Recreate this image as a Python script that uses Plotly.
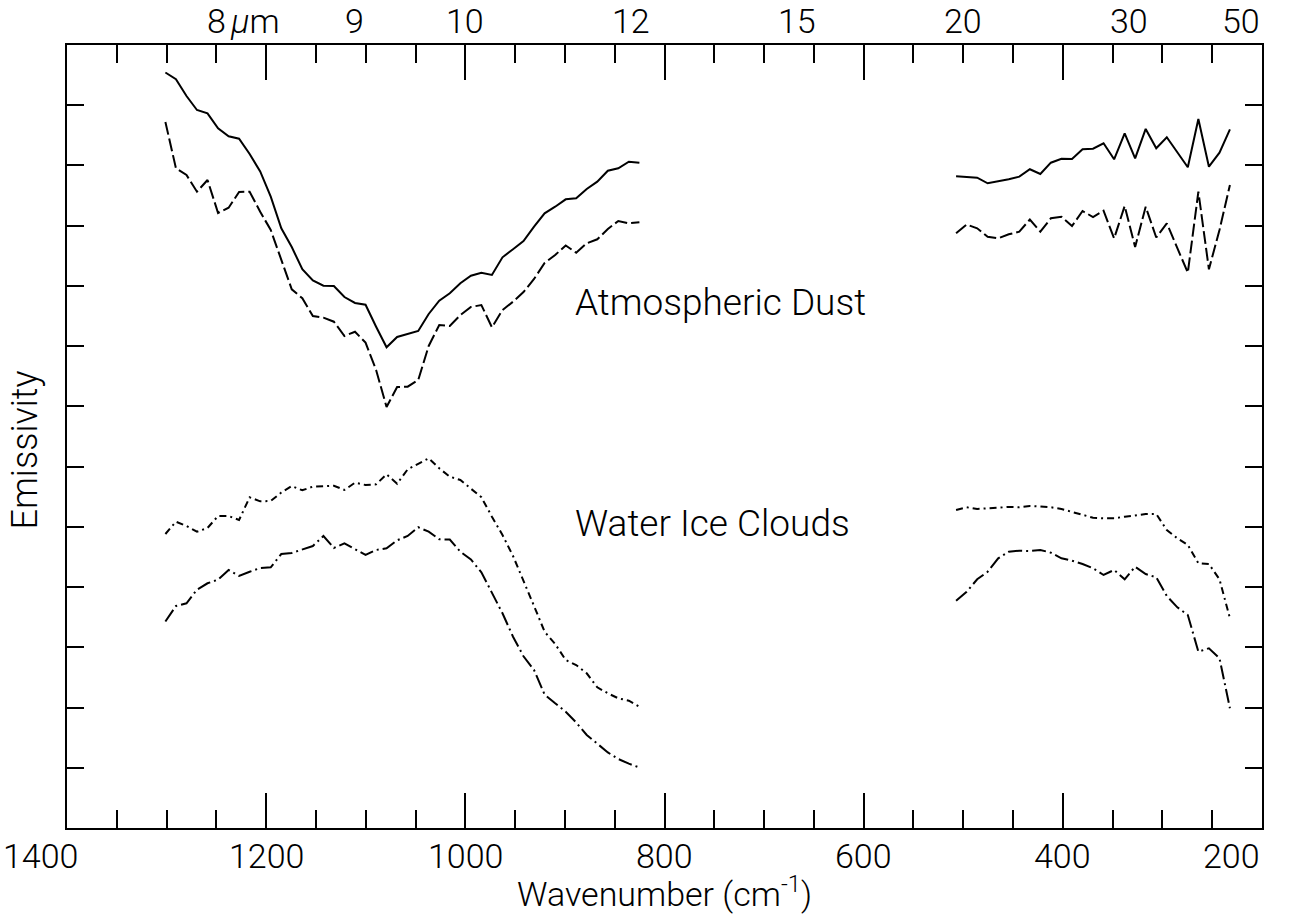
import plotly.graph_objects as go

# ---------------- data ----------------
# wavenumbers (cm^-1) of the two spectral segments
wn_left = [1301.2, 1290.6, 1280.0, 1269.5, 1258.9, 1248.3, 1237.7, 1227.2, 1216.6, 1206.0,
           1195.4, 1184.8, 1174.3, 1163.7, 1153.1, 1142.5, 1132.0, 1121.4, 1110.8, 1100.2,
           1089.6, 1079.1, 1068.5, 1057.9, 1047.3, 1036.8, 1026.2, 1015.6, 1005.0, 994.4,
           983.9, 973.3, 962.7, 952.1, 941.6, 931.0, 920.4, 909.8, 899.2, 888.7,
           878.1, 867.5, 856.9, 846.4, 835.8, 825.2]
wn_right = [507.2, 496.6, 486.0, 475.5, 464.9, 454.3, 443.7, 433.1, 422.6, 412.0,
            401.4, 390.8, 380.2, 369.7, 359.1, 348.5, 337.9, 327.4, 316.8, 306.2,
            295.6, 285.0, 274.5, 263.9, 253.3, 242.7, 232.2]

# Atmospheric dust (offset emissivity, arbitrary units)
dust_a_left = [12.544, 12.431, 12.153, 11.921, 11.866, 11.617, 11.484, 11.444, 11.191, 10.900,
               10.482, 9.957, 9.646, 9.276, 9.093, 9.004, 8.999, 8.816, 8.717, 8.688,
               8.323, 7.981, 8.152, 8.202, 8.252, 8.534, 8.755, 8.878, 9.044, 9.170,
               9.220, 9.182, 9.475, 9.608, 9.746, 9.984, 10.206, 10.315, 10.438, 10.455,
               10.609, 10.731, 10.913, 10.953, 11.063, 11.046]
dust_a_right = [10.820, 10.809, 10.797, 10.704, 10.731, 10.770, 10.814, 10.937, 10.858, 11.046,
                11.112, 11.107, 11.268, 11.279, 11.368, 11.102, 11.534, 11.119, 11.606, 11.285,
                11.468, 11.224, 10.970, 11.772, 10.980, 11.212, 11.600]
dust_b_left = [11.722, 10.953, 10.842, 10.565, 10.759, 10.211, 10.299, 10.560, 10.565, 10.232,
               9.929, 9.431, 8.944, 8.795, 8.501, 8.473, 8.406, 8.169, 8.240, 8.058,
               7.604, 6.990, 7.322, 7.327, 7.438, 8.003, 8.351, 8.335, 8.517, 8.650,
               8.683, 8.313, 8.600, 8.738, 8.899, 9.115, 9.381, 9.514, 9.671, 9.552,
               9.708, 9.774, 9.945, 10.078, 10.040, 10.056]
dust_b_right = [9.874, 10.020, 9.957, 9.817, 9.791, 9.857, 9.901, 10.103, 9.901, 10.123,
                10.149, 9.995, 10.244, 10.144, 10.249, 9.788, 10.327, 9.646, 10.315, 9.804,
                10.040, 9.630, 9.220, 10.565, 9.276, 9.929, 10.676]

# Water ice clouds
ice_a_left = [4.881, 5.086, 5.014, 4.920, 4.981, 5.180, 5.180, 5.114, 5.491, 5.424,
              5.429, 5.570, 5.678, 5.607, 5.667, 5.678, 5.683, 5.612, 5.733, 5.695,
              5.706, 5.872, 5.716, 5.955, 6.044, 6.138, 5.972, 5.833, 5.778, 5.640,
              5.491, 5.169, 4.865, 4.516, 4.118, 3.686, 3.259, 3.055, 2.789, 2.706,
              2.568, 2.336, 2.236, 2.153, 2.114, 2.014]
ice_a_right = [5.280, 5.325, 5.296, 5.308, 5.308, 5.330, 5.325, 5.346, 5.338, 5.325,
               5.296, 5.252, 5.197, 5.152, 5.142, 5.142, 5.169, 5.197, 5.213, 5.213,
               4.948, 4.810, 4.699, 4.395, 4.383, 4.129, 3.482]
ice_b_left = [3.429, 3.686, 3.731, 3.957, 4.063, 4.123, 4.284, 4.184, 4.255, 4.317,
              4.328, 4.549, 4.566, 4.627, 4.682, 4.848, 4.649, 4.727, 4.627, 4.533,
              4.616, 4.644, 4.777, 4.848, 4.993, 4.920, 4.793, 4.790, 4.587, 4.458,
              4.245, 3.902, 3.565, 3.176, 2.851, 2.623, 2.216, 2.070, 1.931, 1.752,
              1.544, 1.400, 1.254, 1.146, 1.068, 1.004]
ice_b_right = [3.774, 3.923, 4.129, 4.255, 4.478, 4.587, 4.604, 4.599, 4.616, 4.571,
               4.478, 4.438, 4.383, 4.312, 4.201, 4.284, 4.129, 4.338, 4.217, 4.162,
               3.852, 3.664, 3.536, 2.927, 2.984, 2.818, 1.987]

# axis labels
wn_tickvals = [1400, 1200, 1000, 800, 600, 400, 200]
wn_ticktext = ["1400", "1200", "1000", "800", "600", "400", "200"]
micron_vals = [10000 / 8, 10000 / 9, 10000 / 10, 10000 / 12, 10000 / 15, 10000 / 20, 10000 / 30, 10000 / 50]
micron_text = ["8", "9", "10", "12", "15", "20", "30", "50"]

# --------------- figure ---------------
TEXT = "Roboto, Liberation Sans, Arial, sans-serif"
fig = go.Figure()


def joined(a, b):
    return list(a) + [None] + list(b)


series = [
    (dust_a_left, dust_a_right, "solid"),
    (dust_b_left, dust_b_right, "13px,4px"),
    (ice_a_left, ice_a_right, "7px,4px,2px,4px"),
    (ice_b_left, ice_b_right, "14px,4px,2px,4px"),
]
for yl, yr, dash in series:
    fig.add_trace(go.Scatter(
        x=joined(wn_left, wn_right), y=joined(yl, yr), mode="lines",
        line=dict(color="black", width=2, dash=dash),
        connectgaps=False, showlegend=False, hoverinfo="skip"))

fig.update_layout(
    width=1306, height=916,
    margin=dict(l=67, r=44, t=45, b=88),
    paper_bgcolor="white", plot_bgcolor="white",
    font=dict(family=TEXT, color="black", size=36, weight=300),
    xaxis=dict(
        range=[1400, 200], showline=True, linecolor="black", linewidth=2,
        mirror="allticks", ticks="inside", ticklen=35, tickwidth=1.5, tickcolor="black",
        tickvals=wn_tickvals, showticklabels=False,
        minor=dict(dtick=50, tick0=200, ticks="inside", ticklen=18, tickwidth=1.5,
                   tickcolor="black", showgrid=False),
        showgrid=False, zeroline=False,
    ),
    yaxis=dict(
        range=[0, 13], showline=True, linecolor="black", linewidth=2,
        mirror="allticks", ticks="inside", ticklen=17, tickwidth=1.5, tickcolor="black",
        tick0=0, dtick=1, showticklabels=False, showgrid=False, zeroline=False,
    ),
)

DIGITS = dict(family=TEXT, size=34, weight=300)

# bottom wavenumber labels (edge labels kept inside the figure, as in the original)
n_wn = len(wn_tickvals)
for i, (v, t) in enumerate(zip(wn_tickvals, wn_ticktext)):
    if i == 0:
        fig.add_annotation(x=v, y=0, xref="x", yref="paper", yanchor="top",
                           xanchor="left", xshift=-66, yshift=-6, showarrow=False,
                           text=t, font=DIGITS)
        continue
    anchor = "right" if i == n_wn - 1 else "center"
    fig.add_annotation(x=v, y=0, xref="x", yref="paper", yanchor="top", xanchor=anchor,
                       yshift=-6, showarrow=False, text=t, font=DIGITS)

# top micron labels
n_mu = len(micron_vals)
for i, (v, t) in enumerate(zip(micron_vals, micron_text)):
    anchor = "right" if i == n_mu - 1 else "center"
    fig.add_annotation(x=v, y=1, xref="x", yref="paper", yanchor="bottom", xanchor=anchor,
                       yshift=2, showarrow=False, text=t, font=DIGITS)
fig.add_annotation(x=micron_vals[0], y=1, xref="x", yref="paper", yanchor="bottom",
                   xanchor="left", xshift=12, yshift=2, showarrow=False,
                   text="<i>µ</i>m", font=DIGITS)

# axis titles
fig.add_annotation(x=0.5, y=0, xref="paper", yref="paper", yanchor="top", xanchor="center",
                   yshift=-40, showarrow=False, text="Wavenumber (cm<sup>-1</sup>)",
                   font=dict(family=TEXT, size=34, weight=300))
fig.add_annotation(x=0, y=0.482, xref="paper", yref="paper", xanchor="center",
                   yanchor="middle", xshift=-42, textangle=-90, showarrow=False,
                   text="Emissivity", font=dict(family=TEXT, size=36, weight=300))

fig.add_annotation(x=892, y=8.72, xref="x", yref="y", xanchor="left", yanchor="middle",
                   showarrow=False, text="Atmospheric Dust",
                   font=dict(family=TEXT, size=37, weight=300))
fig.add_annotation(x=892, y=5.05, xref="x", yref="y", xanchor="left", yanchor="middle",
                   showarrow=False, text="Water Ice Clouds",
                   font=dict(family=TEXT, size=37, weight=300))

fig.write_html("out.html")
